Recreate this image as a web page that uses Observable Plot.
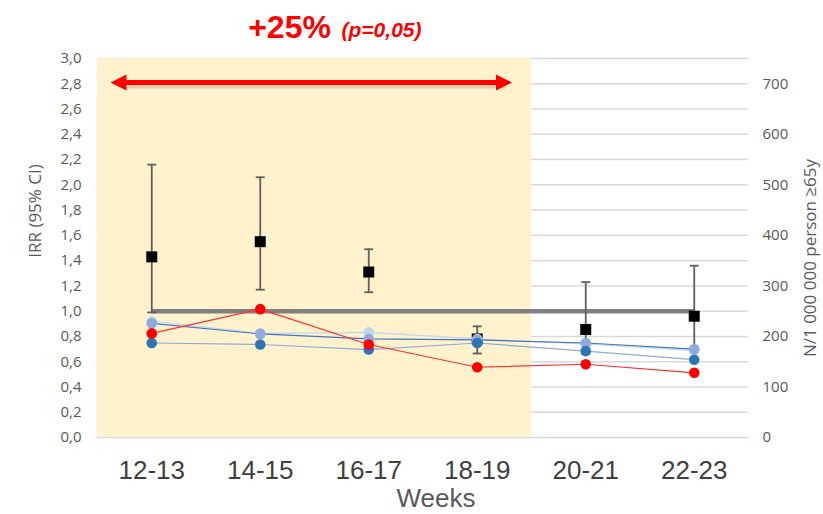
<!DOCTYPE html>
<html>
<head>
<meta charset="utf-8">
<script src="https://cdn.jsdelivr.net/npm/d3@7"></script>
<script src="https://cdn.jsdelivr.net/npm/@observablehq/plot@0.6"></script>
<style>
  html, body { margin: 0; padding: 0; background: #fff; }
</style>
</head>
<body>
<div id="chart"></div>
<script>
// ---- data ----
const weeks = ["12-13", "14-15", "16-17", "18-19", "20-21", "22-23"];

// IRR (95% CI), left axis
const irr     = [1.43, 1.55, 1.31, 0.78, 0.855, 0.96];
const irrLow  = [0.99, 1.17, 1.15, 0.665, 0.66, 0.63];
const irrHigh = [2.16, 2.06, 1.49, 0.88, 1.23, 1.36];

// N / 1 000 000 persons >=65y, right axis
const seriesLight = [230, 206, 208, 195, 185, 172];
const seriesMid   = [226, 205, 195, 193, 187, 175];
const seriesDark  = [187, 184, 174, 187, 171, 154];
const seriesRed   = [206, 254, 184, 139, 145, 128];

const leftTicks  = [0, 0.2, 0.4, 0.6, 0.8, 1.0, 1.2, 1.4, 1.6, 1.8, 2.0, 2.2, 2.4, 2.6, 2.8, 3.0];
const rightTicks = [0, 100, 200, 300, 400, 500, 600, 700];
const rightPerLeft = 250;          // 3.0 on the left axis = 750 on the right axis

const shadedWeeks = 4;             // weeks 12-13 … 18-19 are shaded
const arrowTips = [-0.38, 3.32];   // arrow tips, in week-index units
const arrowY = 2.81;

// ---- derived tables ----
const irrRows = weeks.map((w, i) => ({i, irr: irr[i], lo: irrLow[i], hi: irrHigh[i]}));
const seriesDefs = [
  {key: "light", values: seriesLight, dot: "#bdd7ee", line: "#bdd7ee"},
  {key: "mid",   values: seriesMid,   dot: "#8faadc", line: "#4472c4"},
  {key: "dark",  values: seriesDark,  dot: "#2e75b6", line: "#8fa9d8"},
  {key: "red",   values: seriesRed,   dot: "#ff0000", line: "#ff3030"}
];
const rows = seriesDefs.flatMap(s => s.values.map((v, i) => ({key: s.key, i, y: v / rightPerLeft})));

const capSymbol = {draw(ctx) { ctx.moveTo(-4.5, 0); ctx.lineTo(4.5, 0); }};
const headSymbol = {draw(ctx) { ctx.moveTo(0, 0); ctx.lineTo(-16, -8); ctx.lineTo(-16, 8); ctx.closePath(); }};

const gray = "#595959";

const marks = [
  Plot.gridY(leftTicks.slice(1), {stroke: "#d9d9d9", strokeOpacity: 1, strokeWidth: 1.5}),
  Plot.rect([{x1: -0.5, x2: shadedWeeks - 0.5}], {x1: "x1", x2: "x2", y1: 0, y2: 3, fill: "#fff2cc"}),
  Plot.ruleY([0], {stroke: "#d9d9d9", strokeWidth: 1.5}),
  Plot.axisY(leftTicks, {anchor: "left", tickSize: 0, tickPadding: 16, fontSize: 15, color: gray, label: null,
    tickFormat: d => d.toFixed(1).replace(".", ",")}),
  Plot.axisY(rightTicks.map(v => v / rightPerLeft), {anchor: "right", tickSize: 0, tickPadding: 14, fontSize: 15, color: gray, label: null,
    tickFormat: d => String(Math.round(d * rightPerLeft))}),
  Plot.axisX(d3.range(weeks.length), {anchor: "bottom", tickSize: 0, tickPadding: 23, fontSize: 26, color: "#404040",
    fontFamily: "Liberation Sans, Arial, sans-serif", label: null, tickFormat: i => weeks[i]}),
  Plot.text(["Weeks"], {frameAnchor: "bottom", dx: 13, dy: 61, lineAnchor: "middle", textAnchor: "middle", fontSize: 26, fill: gray,
    fontFamily: "Liberation Sans, Arial, sans-serif"}),
  Plot.text(["IRR (95% CI)"], {frameAnchor: "left", dx: -62, dy: -37, rotate: -90, textAnchor: "middle", lineAnchor: "middle",
    fontSize: 17, fill: gray}),
  Plot.text(["N/1 000 000 person ≥65y"], {frameAnchor: "right", dx: 62, dy: 10, rotate: -90, textAnchor: "middle", lineAnchor: "middle",
    fontSize: 17, fill: gray}),
  // title
  Plot.text(["+25%"], {frameAnchor: "top-left", dx: 192, dy: -31, lineAnchor: "middle", textAnchor: "middle",
    fontSize: 32, fontWeight: "bold", fill: "#ff0000", fontFamily: "Liberation Sans, Arial, sans-serif"}),
  Plot.text(["(p=0,05)"], {frameAnchor: "top-left", dx: 284, dy: -28, lineAnchor: "middle", textAnchor: "middle",
    fontSize: 21, fontWeight: "bold", fontStyle: "italic", fill: "#ff0000", fontFamily: "Liberation Sans, Arial, sans-serif"}),
  // red double arrow (with faint shadow)
  Plot.link([0], {x1: arrowTips[0] + 0.08, x2: arrowTips[1] - 0.07, y1: arrowY, y2: arrowY, stroke: "#7a6a50",
    strokeOpacity: 0.25, strokeWidth: 6, dx: 2, dy: 3}),
  Plot.link([0], {x1: arrowTips[0] + 0.08, x2: arrowTips[1] - 0.07, y1: arrowY, y2: arrowY, stroke: "#ff0000", strokeWidth: 5}),
  Plot.dot([arrowTips[1]], {x: d => d, y: arrowY, symbol: headSymbol, fill: "#ff0000", stroke: "none"}),
  Plot.dot([arrowTips[0]], {x: d => d, y: arrowY, symbol: headSymbol, rotate: 180, fill: "#ff0000", stroke: "none"}),
  // IRR = 1 reference
  Plot.ruleY([1], {x1: 0, x2: weeks.length - 1, stroke: "#7f7f7f", strokeWidth: 4.5}),
  // error bars
  Plot.ruleX(irrRows, {x: "i", y1: "lo", y2: "hi", stroke: "#5f5f5f", strokeWidth: 1.8}),
  Plot.dot(irrRows, {x: "i", y: "hi", symbol: capSymbol, fill: "none", stroke: "#5f5f5f", strokeWidth: 1.8}),
  Plot.dot(irrRows, {x: "i", y: "lo", symbol: capSymbol, fill: "none", stroke: "#5f5f5f", strokeWidth: 1.8}),
  Plot.dot(irrRows, {x: "i", y: "irr", symbol: "square", r: 6.2, fill: "#000"}),
  // incidence series
  ...seriesDefs.map(s => Plot.line(rows.filter(r => r.key === s.key), {x: "i", y: "y", stroke: s.line, strokeWidth: 1.2})),
  ...seriesDefs.map(s => Plot.dot(rows.filter(r => r.key === s.key), {x: "i", y: "y", r: 5.3, fill: s.dot, stroke: "none"}))
];

const chart = Plot.plot({
  width: 823,
  height: 514,
  marginLeft: 97,
  marginRight: 75,
  marginTop: 58,
  marginBottom: 77,
  x: {domain: [-0.5, weeks.length - 0.5], label: null},
  y: {domain: [0, 3], label: null},
  style: {fontFamily: "'Open Sans', sans-serif", background: "#fff", overflow: "visible"},
  marks
});
document.getElementById("chart").appendChild(chart);
</script>
</body>
</html>
